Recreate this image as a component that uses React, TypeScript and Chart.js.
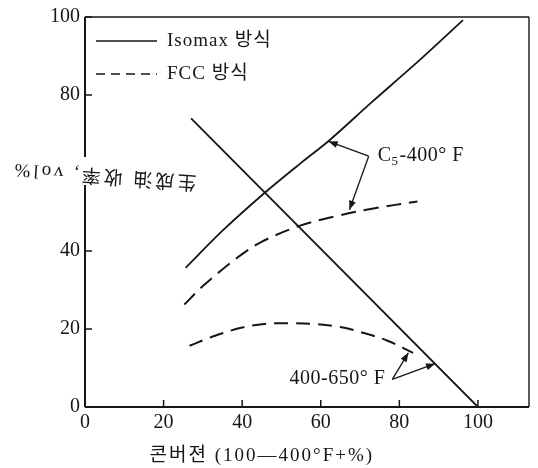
import React, { useEffect, useRef } from 'react';
import { Chart, registerables } from 'chart.js';

Chart.register(...registerables);

// ---- data ----
const xTickValues = [0, 20, 40, 60, 80, 100];
const yTickValues = [0, 20, 40, 80, 100];

const seriesNames = ['Isomax 방식', 'FCC 방식'];

// Isomax, C5-400°F yield (solid, rising)
const isoGasX = [25.6, 35, 45.6, 55, 62, 72.7, 85, 96.2];
const isoGasY = [35.7, 45.2, 54.8, 62.6, 68.2, 77.9, 88.8, 99.2];

// Isomax, 400-650°F yield (solid, falling)
const isoMidX = [27, 100];
const isoMidY = [74, 0];

// FCC, C5-400°F yield (dashed)
const fccGasX = [25.3, 30, 35, 40, 44.8, 54.2, 63.3, 73.4, 84.6];
const fccGasY = [26.3, 31, 35.3, 39.2, 42.3, 46.3, 48.8, 50.9, 52.7];

// FCC, 400-650°F yield (dashed)
const fccMidX = [26.6, 32.9, 39.7, 45.6, 51.6, 58.2, 65, 71.9, 77, 83.5];
const fccMidY = [15.7, 18.2, 20.3, 21.3, 21.5, 21.3, 20.5, 18.7, 17, 13.9];

// annotation anchors (data coords)
const gasLabelVertex = [72.2, 64.3];
const gasLabelTargets = [[62, 68.1], [67.3, 50.6]];
const midLabelVertex = [78.2, 7.1];
const midLabelTargets = [[82.3, 13.9], [89.1, 11.1]];

const xTitle = '콘버젼 (100—400°F+%)';
const yTitle = '生成油 收率, vol%';

const INK = '#161616';
const SERIF = "'Liberation Serif', 'Noto Sans CJK KR', serif";
const CJK = "'Liberation Serif', 'Noto Sans CJK TC', 'Noto Sans CJK KR', serif";

const pts = (xs: number[], ys: number[]) => xs.map((x, i) => ({ x, y: ys[i] }));

const overlay = {
  id: 'overlay',
  afterDraw(chart: any) {
    const { ctx, chartArea: a, scales } = chart;
    const xs = scales.x;
    const ys = scales.y;
    const px = (v: number) => xs.getPixelForValue(v);
    const py = (v: number) => ys.getPixelForValue(v);
    ctx.save();
    ctx.strokeStyle = INK;
    ctx.fillStyle = INK;
    ctx.lineCap = 'butt';

    const seg = (x1: number, y1: number, x2: number, y2: number, w: number) => {
      ctx.lineWidth = w;
      ctx.beginPath();
      ctx.moveTo(x1, y1);
      ctx.lineTo(x2, y2);
      ctx.stroke();
    };

    // frame
    seg(a.left, a.top, a.right, a.top, 1.4);
    seg(a.right, a.top, a.right, a.bottom, 1.4);
    seg(a.left, a.bottom, a.right, a.bottom, 2);
    seg(a.left, a.top, a.left, a.bottom, 2);

    // inner tick marks
    xTickValues.forEach((v) => seg(px(v), a.bottom, px(v), a.bottom - 7, 1.5));
    yTickValues.forEach((v) => seg(a.left, py(v), a.left + 7, py(v), 1.5));

    // legend
    const lx1 = a.left + 11;
    const lx2 = a.left + 72;
    const ly1 = a.top + 24;
    const ly2 = a.top + 57;
    seg(lx1, ly1, lx2, ly1, 1.6);
    ctx.setLineDash([9, 6]);
    seg(lx1, ly2, lx2, ly2, 1.6);
    ctx.setLineDash([]);
    ctx.font = `19px ${SERIF}`;
    ctx.textAlign = 'left';
    ctx.textBaseline = 'middle';
    (ctx as any).letterSpacing = '1px';
    ctx.fillText(seriesNames[0], lx2 + 10, ly1);
    ctx.fillText(seriesNames[1], lx2 + 10, ly2);

    // arrows
    const arrow = (fx: number, fy: number, tx: number, ty: number) => {
      seg(fx, fy, tx, ty, 1.3);
      const ang = Math.atan2(ty - fy, tx - fx);
      const L = 9;
      const W = 3.5;
      ctx.beginPath();
      ctx.moveTo(tx, ty);
      ctx.lineTo(tx - L * Math.cos(ang) + W * Math.sin(ang), ty - L * Math.sin(ang) - W * Math.cos(ang));
      ctx.lineTo(tx - L * Math.cos(ang) - W * Math.sin(ang), ty - L * Math.sin(ang) + W * Math.cos(ang));
      ctx.closePath();
      ctx.fill();
    };
    const gvx = px(gasLabelVertex[0]);
    const gvy = py(gasLabelVertex[1]);
    gasLabelTargets.forEach((t) => arrow(gvx, gvy, px(t[0]), py(t[1])));
    const mvx = px(midLabelVertex[0]);
    const mvy = py(midLabelVertex[1]);
    midLabelTargets.forEach((t) => arrow(mvx, mvy, px(t[0]), py(t[1])));

    // arrow labels
    (ctx as any).letterSpacing = '0.5px';
    ctx.textBaseline = 'middle';
    ctx.textAlign = 'left';
    let cx = gvx + 9;
    ctx.font = `20px ${SERIF}`;
    ctx.fillText('C', cx, gvy);
    cx += ctx.measureText('C').width;
    ctx.font = `13px ${SERIF}`;
    ctx.fillText('5', cx, gvy + 5);
    cx += ctx.measureText('5').width + 1;
    ctx.font = `20px ${SERIF}`;
    ctx.fillText('-400° F', cx, gvy);

    ctx.textAlign = 'right';
    ctx.fillText('400-650° F', mvx - 7, mvy - 1);

    // x title
    ctx.textAlign = 'center';
    ctx.font = `19px ${SERIF}`;
    (ctx as any).letterSpacing = '2px';
    ctx.fillText(xTitle, px(45), a.bottom + 49);

    // y title (upside down)
    ctx.fillStyle = '#ffffff';
    ctx.fillRect(a.left - 3, a.top + 140, 7, 28);
    ctx.fillStyle = INK;
    ctx.save();
    ctx.translate(a.left + 19, a.top + 158);
    ctx.rotate(Math.PI + (4 * Math.PI) / 180);
    ctx.font = `19px ${CJK}`;
    (ctx as any).letterSpacing = '3px';
    ctx.textAlign = 'center';
    ctx.fillText(yTitle, 0, 0);
    ctx.restore();

    ctx.restore();
  },
};

export default function App() {
  const ref = useRef<HTMLCanvasElement | null>(null);
  useEffect(() => {
    if (!ref.current) return;
    const tickFont = { family: SERIF, size: 20 };
    const chart = new Chart(ref.current, {
      type: 'line',
      data: {
        datasets: [
          { label: 'Isomax C5-400', data: pts(isoGasX, isoGasY), borderColor: INK, borderWidth: 1.8, tension: 0.3, pointRadius: 0, fill: false },
          { label: 'Isomax 400-650', data: pts(isoMidX, isoMidY), borderColor: INK, borderWidth: 1.8, tension: 0, pointRadius: 0, fill: false },
          { label: 'FCC C5-400', data: pts(fccGasX, fccGasY), borderColor: INK, borderWidth: 2, borderDash: [15, 8], tension: 0.35, pointRadius: 0, fill: false },
          { label: 'FCC 400-650', data: pts(fccMidX, fccMidY), borderColor: INK, borderWidth: 2, borderDash: [14, 8], tension: 0.35, pointRadius: 0, fill: false },
        ],
      },
      options: {
        animation: false,
        responsive: true,
        maintainAspectRatio: false,
        layout: { padding: { top: 12.5, right: 9, left: 0, bottom: 0 } },
        plugins: { legend: { display: false }, tooltip: { enabled: false } },
        scales: {
          x: {
            type: 'linear',
            min: 0,
            max: 113,
            afterBuildTicks: (s: any) => { s.ticks = xTickValues.map((v) => ({ value: v })); },
            afterFit: (s: any) => { s.height = 61; },
            grid: { display: false, drawTicks: false },
            border: { display: false },
            ticks: { font: tickFont, color: INK, padding: 4, maxRotation: 0, autoSkip: false },
          },
          y: {
            type: 'linear',
            min: 0,
            max: 100,
            afterBuildTicks: (s: any) => { s.ticks = yTickValues.map((v) => ({ value: v })); },
            afterFit: (s: any) => { s.width = 85; },
            grid: { display: false, drawTicks: false },
            border: { display: false },
            ticks: { font: tickFont, color: INK, padding: 5, autoSkip: false },
          },
        },
      },
      plugins: [overlay],
    });
    return () => chart.destroy();
  }, []);
  return (
    <div style={{ position: 'fixed', left: 0, top: 0, width: 538, height: 468, background: '#fff' }}>
      <canvas ref={ref} />
    </div>
  );
}
